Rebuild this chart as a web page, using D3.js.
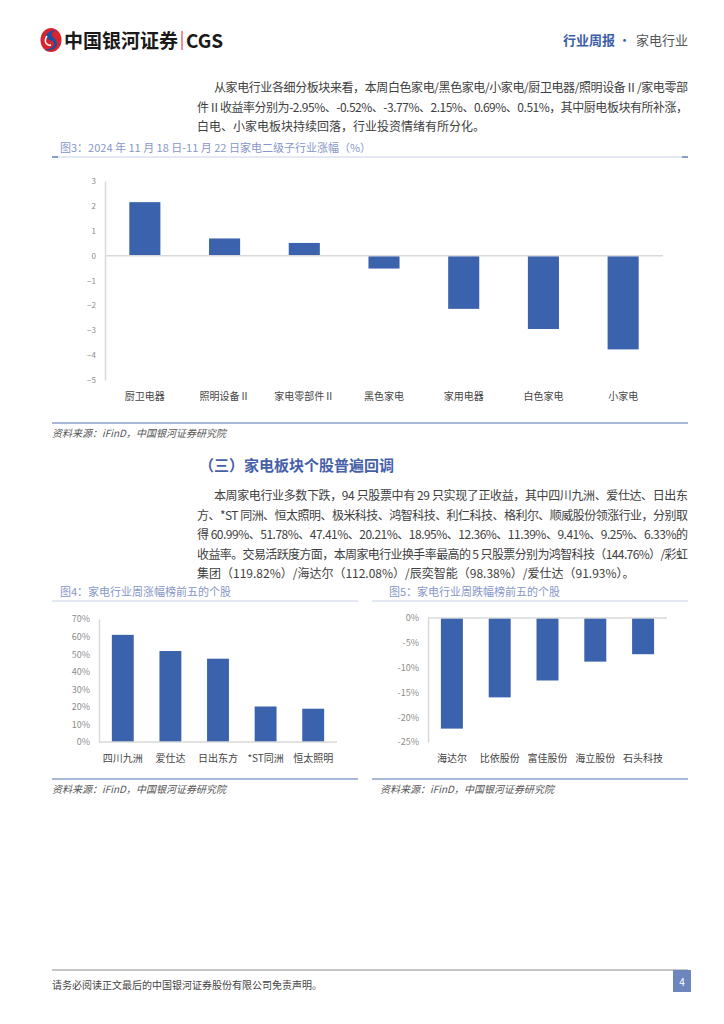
<!DOCTYPE html>
<html>
<head>
<meta charset="utf-8">
<script src="https://cdn.jsdelivr.net/npm/d3@7"></script>
<style>
  body{margin:0;background:#fff;}
  svg text{font-family:"Noto Sans CJK SC","Noto Sans",sans-serif;}
  .axis path,.axis line{stroke:#d9d9d9;}
  .axis text{fill:#8c8c8c;}
</style>
</head>
<body>
<svg id="page" width="724" height="1024"></svg>
<script>
// ---- data ----
var subCats=['厨卫电器','照明设备Ⅱ','家电零部件Ⅱ','黑色家电','家用电器','白色家电','小家电'];
var subVals=[2.15,0.69,0.51,-0.52,-2.14,-2.95,-3.77];
var subTicks=[3,2,1,0,-1,-2,-3,-4,-5];

var upNames=['四川九洲','爱仕达','日出东方','*ST同洲','恒太照明'];
var upVals=[60.99,51.78,47.41,20.21,18.95];
var upTicks=[0,10,20,30,40,50,60,70];

var downNames=['海达尔','比依股份','富佳股份','海立股份','石头科技'];
var downVals=[-22.3,-16.0,-12.6,-8.8,-7.3];
var downTicks=[0,-5,-10,-15,-20,-25];

var para1=[
 '从家电行业各细分板块来看，本周白色家电/黑色家电/小家电/厨卫电器/照明设备Ⅱ/家电零部',
 '件Ⅱ收益率分别为-2.95%、-0.52%、-3.77%、2.15%、0.69%、0.51%，其中厨电板块有所补涨，',
 '白电、小家电板块持续回落，行业投资情绪有所分化。'
];
var para2=[
 '本周家电行业多数下跌，94 只股票中有 29 只实现了正收益，其中四川九洲、爱仕达、日出东',
 '方、*ST 同洲、恒太照明、极米科技、鸿智科技、利仁科技、格利尔、顺威股份领涨行业，分别取',
 '得 60.99%、51.78%、47.41%、20.21%、18.95%、12.36%、11.39%、9.41%、9.25%、6.33%的',
 '收益率。交易活跃度方面，本周家电行业换手率最高的 5 只股票分别为鸿智科技（144.76%）/彩虹',
 '集团（119.82%）/海达尔（112.08%）/辰奕智能（98.38%）/爱仕达（91.93%）。'
];

var barColor='#3b63ad';
var titleColor='#8797c8';
var svg=d3.select('#page');

// ---- header ----
var logo=svg.append('g').attr('transform','translate(51,40)');
logo.append('ellipse').attr('rx',10.5).attr('ry',12).attr('fill','#d9232e');
logo.append('path').attr('d','M6,-10 C-6,-9 -8,-2 -1,0 C6,2 4,9 -7,10 C2,12 10,6 4,-1 C-1,-5 0,-8 6,-10 Z').attr('fill','#1d4f9c');
logo.append('path').attr('d','M-4,-4 C-8,2 -4,6 0,5').attr('stroke','#fff').attr('stroke-width',1.5).attr('fill','none');
svg.append('text').attr('x',64).attr('y',48).attr('font-size',19).attr('font-weight','bold').attr('fill','#1a1a1a').text('中国银河证券');
svg.append('line').attr('x1',182).attr('x2',182).attr('y1',31).attr('y2',50).attr('stroke','#d9232e').attr('stroke-width',1);
svg.append('text').attr('x',186).attr('y',48).attr('font-size',19).attr('font-weight','bold').attr('fill','#1a1a1a').attr('font-family','Roboto,Arial,sans-serif').text('CGS');
svg.append('text').attr('x',563).attr('y',45).attr('font-size',13).attr('font-weight','bold').attr('fill','#3c5ea6').text('行业周报');
svg.append('text').attr('x',618).attr('y',45).attr('font-size',13).attr('fill','#3c5ea6').text('·');
svg.append('text').attr('x',636).attr('y',45).attr('font-size',13).attr('fill','#555').text('家电行业');

// ---- paragraphs ----
function paragraph(lines,y0,lh){
  lines.forEach(function(s,i){
    var x=i===0?214:197;
    var t=svg.append('text').attr('x',x).attr('y',y0+i*lh).attr('font-size',12).attr('fill','#404040').text(s);
    if(i<lines.length-1) t.attr('textLength',688-x).attr('lengthAdjust','spacing');
  });
}
paragraph(para1,92,19.5);
svg.append('text').attr('x',199).attr('y',471).attr('font-size',15).attr('font-weight','bold').attr('fill','#4660a8').text('（三）家电板块个股普遍回调');
paragraph(para2,500,19.6);

// ---- helpers ----
function titleBlock(x1,x2,y,label,tx){
  svg.append('text').attr('x',tx).attr('y',y-5).attr('font-size',11).attr('fill',titleColor).text(label);
  svg.append('line').attr('x1',x1).attr('x2',x2).attr('y1',y).attr('y2',y).attr('stroke','#c9d1e8').attr('stroke-width',1);
}
function sourceBlock(x1,x2,y,tx){
  svg.append('line').attr('x1',x1).attr('x2',x2).attr('y1',y).attr('y2',y).attr('stroke','#8c9fcc').attr('stroke-width',1.5);
  svg.append('text').attr('x',tx).attr('y',y+14).attr('font-size',10).attr('font-style','italic').attr('fill','#555').text('资料来源：iFinD，中国银河证券研究院');
}
function barChart(o){
  var x=d3.scaleBand().domain(o.cats).range([o.x0,o.x1]).paddingInner(o.pad).paddingOuter(o.pad/2);
  var y=d3.scaleLinear().domain(o.dom).range([o.y1,o.y0]);
  var g=svg.append('g');
  var ax=g.append('g').attr('class','axis').attr('transform','translate('+o.x0+',0)')
    .call(d3.axisLeft(y).tickValues(o.ticks).tickSize(0).tickPadding(o.tp).tickFormat(o.fmt));
  ax.selectAll('text').attr('font-size',o.tfs).attr('font-family','"Liberation Serif","Noto Sans CJK SC",serif');
  ax.select('.domain').attr('stroke','#d9d9d9').attr('stroke-width',1.5);
  g.selectAll('rect.bar').data(o.vals).enter().append('rect').attr('class','bar')
    .attr('x',function(d,i){return x(o.cats[i]);})
    .attr('width',x.bandwidth())
    .attr('y',function(d){return y(Math.max(0,d));})
    .attr('height',function(d){return Math.abs(y(d)-y(0));})
    .attr('fill',barColor);
  g.append('line').attr('x1',o.x0).attr('x2',o.x1).attr('y1',y(0)).attr('y2',y(0)).attr('stroke','#d9d9d9').attr('stroke-width',1.5);
  g.selectAll('text.cat').data(o.cats).enter().append('text').attr('class','cat')
    .attr('x',function(d){return x(d)+x.bandwidth()/2;})
    .attr('y',o.ly).attr('text-anchor','middle').attr('font-size',o.lfs).attr('fill','#444').text(function(d){return d;});
}

// ---- 图3 ----
titleBlock(52,688,157,'图3：2024 年 11 月 18 日-11 月 22 日家电二级子行业涨幅（%）',60);
svg.append('line').attr('x1',52).attr('x2',58).attr('y1',157).attr('y2',157).attr('stroke','#8c9fcc').attr('stroke-width',2);
svg.append('line').attr('x1',682).attr('x2',688).attr('y1',157).attr('y2',157).attr('stroke','#8c9fcc').attr('stroke-width',2);
barChart({cats:subCats,vals:subVals,ticks:subTicks,dom:[-5,3],x0:105,x1:663,y0:181,y1:380,pad:0.61,
  tp:9,tfs:8,fmt:d3.format('d'),ly:400,lfs:10});
sourceBlock(52,688,423,52);

// ---- 图4 ----
titleBlock(52,358,601,'图4：家电行业周涨幅榜前五的个股',60);
barChart({cats:upNames,vals:upVals,ticks:upTicks,dom:[0,70],x0:99,x1:337,y0:619,y1:742,pad:0.54,
  tp:9,tfs:9,fmt:function(d){return d+'%';},ly:762,lfs:10});
sourceBlock(52,358,779,52);

// ---- 图5 ----
titleBlock(372,688,601,'图5：家电行业周跌幅榜前五的个股',389);
barChart({cats:downNames,vals:downVals,ticks:downTicks,dom:[-25,0],x0:428,x1:667,y0:618,y1:742,pad:0.54,
  tp:9,tfs:9,fmt:function(d){return d+'%';},ly:762,lfs:10});
sourceBlock(372,688,779,380);

// ---- footer ----
svg.append('line').attr('x1',52).attr('x2',688).attr('y1',970).attr('y2',970).attr('stroke','#8c8c8c').attr('stroke-width',1);
svg.append('text').attr('x',52).attr('y',989).attr('font-size',10).attr('fill','#444').text('请务必阅读正文最后的中国银河证券股份有限公司免责声明。');
svg.append('rect').attr('x',673).attr('y',970).attr('width',18).attr('height',22).attr('fill','#6d86bd');
svg.append('text').attr('x',682).attr('y',986).attr('text-anchor','middle').attr('font-size',10).attr('fill','#fff').text('4');
</script>
</body>
</html>
